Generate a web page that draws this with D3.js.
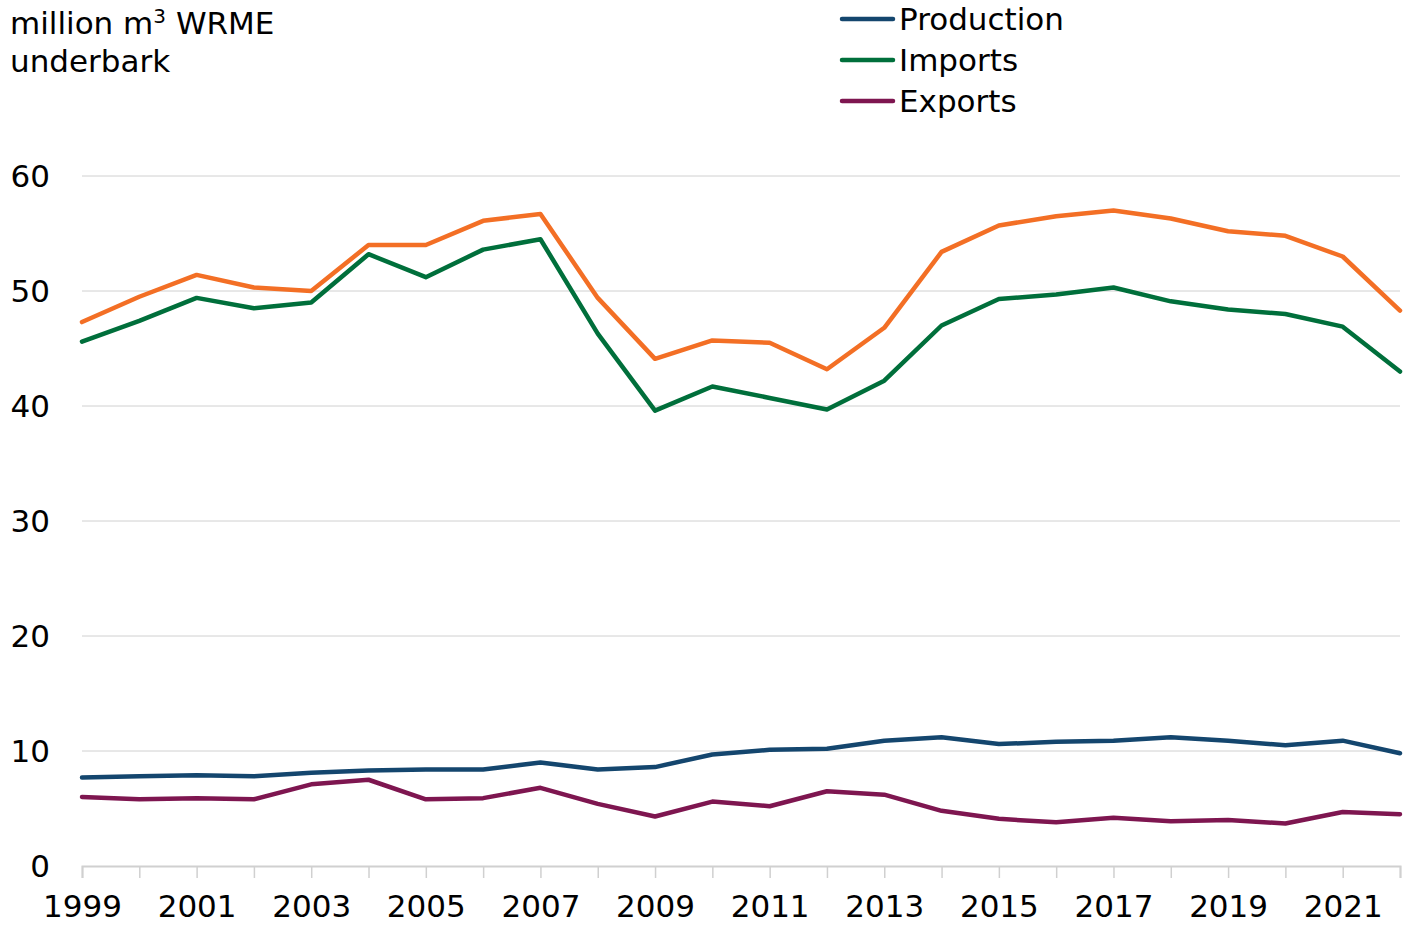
<!DOCTYPE html>
<html lang="en">
<head>
<meta charset="UTF-8">
<title>Wood flows</title>
<script src="https://cdn.jsdelivr.net/npm/d3@7"></script>
<style>
  body { margin: 0; background: #fff; }
  text { font-family: "DejaVu Sans", Verdana, sans-serif; fill: #000; }
</style>
</head>
<body>
<script>
const years = d3.range(1999, 2023)
const production = [7.7, 7.8, 7.9, 7.8, 8.1, 8.3, 8.4, 8.4, 9.0, 8.4, 8.6, 9.7, 10.1, 10.2, 10.9, 11.2, 10.6, 10.8, 10.9, 11.2, 10.9, 10.5, 10.9, 9.8]
const imports = [45.6, 47.4, 49.4, 48.5, 49.0, 53.2, 51.2, 53.6, 54.5, 46.3, 39.6, 41.7, 40.7, 39.7, 42.2, 47.0, 49.3, 49.7, 50.3, 49.1, 48.4, 48.0, 46.9, 43.0]
const exports = [6.0, 5.8, 5.9, 5.8, 7.1, 7.5, 5.8, 5.9, 6.8, 5.4, 4.3, 5.6, 5.2, 6.5, 6.2, 4.8, 4.1, 3.8, 4.2, 3.9, 4.0, 3.7, 4.7, 4.5]
const consumption = [47.3, 49.5, 51.4, 50.3, 50.0, 54.0, 54.0, 56.1, 56.7, 49.4, 44.1, 45.7, 45.5, 43.2, 46.8, 53.4, 55.7, 56.5, 57.0, 56.3, 55.2, 54.8, 53.0, 48.3]
const yTicks = [0, 10, 20, 30, 40, 50, 60]
const xLabels = d3.range(1999, 2022, 2)

const width = 1413, height = 926
const plotLeft = 82, plotRight = 1400, plotTop = 176, plotBottom = 866
const fontSize = "31px"

const svg = d3.select("body").append("svg")
    .attr("width", width)
    .attr("height", height)

const x = d3.scaleLinear().domain([1999, 2022]).range([plotLeft, plotRight])
const y = d3.scaleLinear().domain([0, 60]).range([plotBottom, plotTop])

// gridlines
svg.append("g")
    .selectAll("line")
    .data(yTicks.filter(d => d > 0))
    .enter().append("line")
    .attr("x1", plotLeft).attr("x2", plotRight)
    .attr("y1", d => y(d)).attr("y2", d => y(d))
    .attr("stroke", "#d0d0d0").attr("stroke-width", 1)

// y labels
svg.append("g")
    .selectAll("text")
    .data(yTicks)
    .enter().append("text")
    .attr("x", 50).attr("y", d => y(d))
    .attr("dy", "0.36em")
    .attr("text-anchor", "end")
    .style("font-size", fontSize)
    .text(d => d)

// x axis
const xAxis = d3.axisBottom(x)
    .tickValues(years)
    .tickSize(12)
    .tickFormat(d => xLabels.includes(d) ? d : "")
const gx = svg.append("g")
    .attr("transform", `translate(0,${plotBottom})`)
    .call(xAxis)
gx.select(".domain").attr("stroke", "#d0d0d0").attr("stroke-width", 2)
gx.selectAll(".tick line").attr("stroke", "#d0d0d0").attr("stroke-width", 1.5)
gx.selectAll(".tick text")
    .attr("y", 29)
    .style("font-size", fontSize)
    .style("font-family", "DejaVu Sans, Verdana, sans-serif")
    .attr("fill", "#000")

const series = [
    { name: "Consumption", values: consumption, color: "#f36f25" },
    { name: "Imports", values: imports, color: "#006f3b" },
    { name: "Production", values: production, color: "#14466e" },
    { name: "Exports", values: exports, color: "#7e1650" }
]

const line = d3.line()
    .x((d, i) => x(years[i]))
    .y(d => y(d))

svg.append("g")
    .selectAll("path")
    .data(series)
    .enter().append("path")
    .attr("d", d => line(d.values))
    .attr("fill", "none")
    .attr("stroke", d => d.color)
    .attr("stroke-width", 4.5)
    .attr("stroke-linejoin", "round")
    .attr("stroke-linecap", "round")

// unit label
const unit = svg.append("text")
    .attr("x", 10).attr("y", 34)
    .style("font-size", fontSize)
unit.append("tspan").text("million m")
unit.append("tspan").text("3").attr("dy", -11).style("font-size", "20px")
unit.append("tspan").text(" WRME").attr("dy", 11)
svg.append("text")
    .attr("x", 10).attr("y", 72)
    .style("font-size", fontSize)
    .text("underbark")

// legend
const legendItems = [series[2], series[1], series[3]]
const lg = svg.append("g")
    .selectAll("g")
    .data(legendItems)
    .enter().append("g")
    .attr("transform", (d, i) => `translate(840,${19 + i * 41})`)
lg.append("line")
    .attr("x1", 2).attr("x2", 53)
    .attr("stroke", d => d.color)
    .attr("stroke-width", 4.5)
    .attr("stroke-linecap", "round")
lg.append("text")
    .attr("x", 59).attr("dy", "0.36em")
    .style("font-size", fontSize)
    .text(d => d.name)
</script>
</body>
</html>
